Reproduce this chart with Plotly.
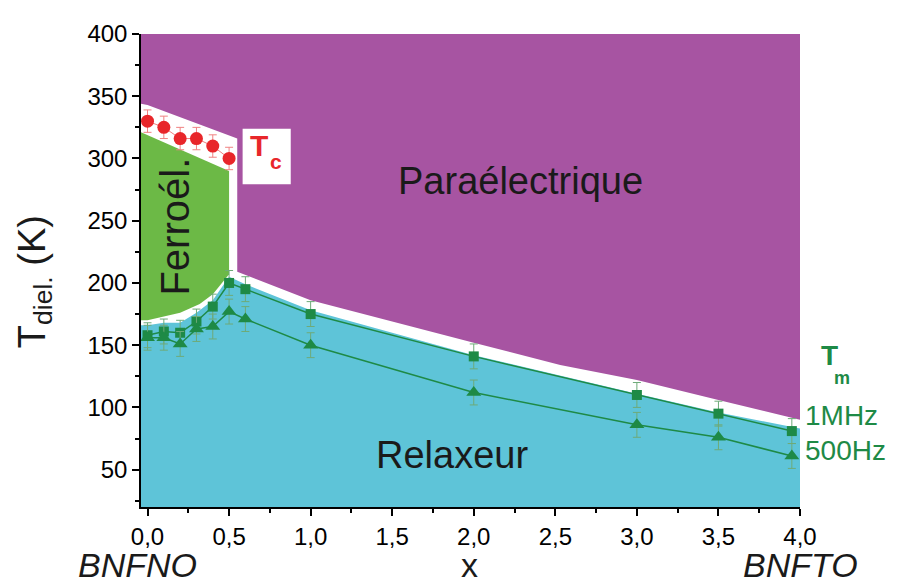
import plotly.graph_objects as go

# ---- data ----
tc_x = [0.0, 0.1, 0.2, 0.3, 0.4, 0.5]
tc_y = [330, 325, 316, 316, 310, 300]
tc_err = [9, 9, 9, 9, 9, 9]

tm_x = [0.0, 0.1, 0.2, 0.3, 0.4, 0.5, 0.6, 1.0, 2.0, 3.0, 3.5, 3.95]
tm_1mhz = [158, 161, 160, 169, 181, 200, 195, 175, 141, 110, 95, 81]
tm_500hz = [156, 156, 151, 163, 165, 177, 171, 150, 112, 86, 76, 61]
tm_err = [10] * 12

# phase boundaries
para_x = [-0.04, 4.0, 4.0, 3.5, 3.0, 2.53, 2.0, 1.0, 0.55, 0.55, 0.0, -0.04]
para_y = [400, 400, 90, 106, 122, 134, 152, 186, 209, 316, 343, 344]

ferro_x = [-0.04, 0.5, 0.5, 0.4, 0.32, 0.2, 0.1, 0.0, -0.04]
ferro_y = [321, 290, 207, 191, 183, 176, 173, 170, 170]

relax_x = [-0.04, 0.0, 0.1, 0.2, 0.3, 0.4, 0.5, 0.6, 1.0, 2.0, 3.0, 3.5, 4.0, 4.0, -0.04]
relax_y = [166, 166, 168, 168, 176, 186, 205, 199, 178, 142, 111, 96, 83, 20, 20]

x_ticks = [0.0, 0.5, 1.0, 1.5, 2.0, 2.5, 3.0, 3.5, 4.0]
y_ticks = [50, 100, 150, 200, 250, 300, 350, 400]

PURPLE = "rgb(167,84,162)"
GREEN = "rgb(108,185,70)"
CYAN = "rgb(94,196,216)"
DKGREEN = "rgb(30,138,70)"
RED = "rgb(232,38,42)"
FONT = "Liberation Sans, Arial, sans-serif"

fig = go.Figure()
fig.add_trace(go.Scatter(x=para_x, y=para_y, fill="toself", fillcolor=PURPLE,
                         mode="none", hoverinfo="skip"))
fig.add_trace(go.Scatter(x=ferro_x, y=ferro_y, fill="toself", fillcolor=GREEN,
                         mode="none", hoverinfo="skip"))
fig.add_trace(go.Scatter(x=relax_x, y=relax_y, fill="toself", fillcolor=CYAN,
                         mode="none", hoverinfo="skip"))

fig.add_trace(go.Scatter(
    x=tc_x, y=tc_y, mode="lines+markers",
    line=dict(color="rgba(232,38,42,0.6)", width=1),
    marker=dict(symbol="circle", size=13, color=RED),
    error_y=dict(type="data", array=tc_err, color="rgb(240,130,130)", thickness=1, width=4)))

fig.add_trace(go.Scatter(
    x=tm_x, y=tm_1mhz, mode="lines+markers",
    line=dict(color=DKGREEN, width=1.5),
    marker=dict(symbol="square", size=10, color=DKGREEN),
    error_y=dict(type="data", array=tm_err, color="rgb(110,170,120)", thickness=1, width=4)))

fig.add_trace(go.Scatter(
    x=tm_x, y=tm_500hz, mode="lines+markers",
    line=dict(color=DKGREEN, width=1.5),
    marker=dict(symbol="triangle-up", size=13, color=DKGREEN),
    error_y=dict(type="data", array=tm_err, color="rgb(110,170,120)", thickness=1, width=4)))

# Tc white box
fig.add_shape(type="rect", x0=0.583, x1=0.878, y0=279.3, y1=323.9,
              fillcolor="white", line=dict(width=0), layer="above")

ann = []
def A(x, y, text, size, color="#1a1a1a", angle=0, xanchor="center", xref="x", yref="y",
      yanchor="middle"):
    ann.append(dict(x=x, y=y, xref=xref, yref=yref, text=text, showarrow=False,
                    textangle=angle, xanchor=xanchor, yanchor=yanchor,
                    font=dict(family=FONT, size=size, color=color)))

A(2.285, 282, "Paraélectrique", 38)
A(0.17, 245.5, "Ferroél.", 40, angle=-90)
A(1.868, 61.4, "Relaxeur", 38)
A(0.685, 310.2, "<b>T</b>", 30, RED)
A(0.790, 297.6, "<b>c</b>", 21, RED)
A(1.0455, 0.3195, "<b>T</b>", 28, DKGREEN, xref="paper", yref="paper")
A(1.064, 0.272, "<b>m</b>", 18, DKGREEN, xref="paper", yref="paper")
A(1.0046, 0.194, "1MHz", 28, DKGREEN, xanchor="left", xref="paper", yref="paper")
A(1.0046, 0.1203, "500Hz", 28, DKGREEN, xanchor="left", xref="paper", yref="paper")
A(0.4992, -0.166, "x", 34, xref="paper", yref="paper", yanchor="bottom")
A(-0.006, -0.166, "<i>BNFNO</i>", 34, xref="paper", yref="paper", yanchor="bottom")
A(1.0015, -0.166, "<i>BNFTO</i>", 34, xref="paper", yref="paper", yanchor="bottom")
A(-0.161, 0.477, "T<sub>diel.</sub> (K)", 38, angle=-90, xref="paper", yref="paper")

fig.update_layout(
    width=892, height=579,
    margin=dict(l=133, r=100, t=17, b=80),
    paper_bgcolor="white", plot_bgcolor="white",
    showlegend=False, separators=", ",
    annotations=ann,
    font=dict(family=FONT, color="black"),
)
fig.update_xaxes(range=[-0.04, 4.0], tickvals=x_ticks, tickformat=".1f",
                 ticklabelstandoff=0,
                 ticks="outside", ticklen=7, tickwidth=1.5, tickcolor="black",
                 showline=True, linecolor="black", linewidth=1.5,
                 showgrid=False, zeroline=False,
                 tickfont=dict(family=FONT, size=24, color="black"),
                 minor=dict(dtick=0.25, tick0=0, ticks="outside", ticklen=4,
                            tickwidth=1.5, tickcolor="black", showgrid=False))
fig.update_yaxes(range=[20, 400], tickvals=y_ticks, ticklabelstandoff=0,
                 ticks="outside", ticklen=7, tickwidth=1.5, tickcolor="black",
                 showline=True, linecolor="black", linewidth=1.5,
                 showgrid=False, zeroline=False,
                 tickfont=dict(family=FONT, size=24, color="black"),
                 minor=dict(dtick=25, tick0=0, ticks="outside", ticklen=4,
                            tickwidth=1.5, tickcolor="black", showgrid=False))

fig.write_html("out.html")
